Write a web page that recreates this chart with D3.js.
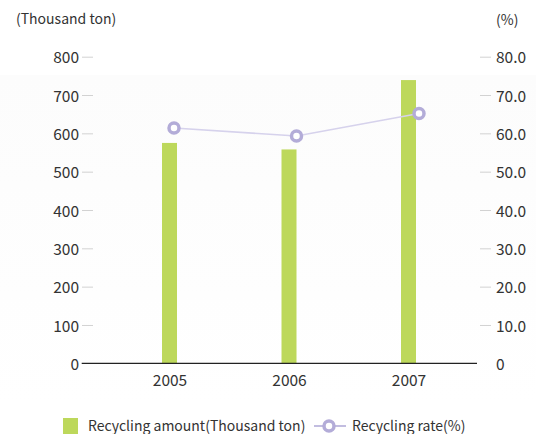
<!DOCTYPE html>
<html>
<head>
<meta charset="utf-8">
<style>
  body { margin: 0; background: #fff; }
  svg text { font-family: "Noto Sans CJK KR", "Noto Sans", sans-serif; fill: #333; }
</style>
</head>
<body>
<script src="https://d3js.org/d3.v7.min.js"></script>
<script>

var years = ["2005", "2006", "2007"];
var amount = [575, 558, 739];          // thousand ton
var rate = [61.4, 59.3, 65.2];         // %
var leftTicks = [0, 100, 200, 300, 400, 500, 600, 700, 800];
var rightTicks = [0, 10, 20, 30, 40, 50, 60, 70, 80];

var W = 536, H = 434;
var y0 = 363.3, yTop = 56.7;

var svg = d3.select("body").append("svg")
  .attr("width", W).attr("height", H);

/* faint background */
var grad = svg.append("defs").append("linearGradient")
  .attr("id", "bg").attr("x1", 0).attr("y1", 0).attr("x2", 0).attr("y2", 1);
grad.append("stop").attr("offset", "0%").attr("stop-color", "#fcfcfc");
grad.append("stop").attr("offset", "100%").attr("stop-color", "#ffffff");
svg.append("rect").attr("x", 0).attr("y", 75).attr("width", W).attr("height", 330)
  .attr("fill", "url(#bg)");

/* scales */
var yL = d3.scaleLinear().domain([0, 800]).range([y0, yTop]);
var yR = d3.scaleLinear().domain([0, 80]).range([y0, yTop]);
var xBar = d3.scalePoint().domain(years).range([169.5, 408.5]);
var xLine = d3.scalePoint().domain(years).range([174, 419]);
var barW = 15;

/* left axis */
var left = svg.append("g").attr("transform", "translate(93,0)")
  .call(d3.axisLeft(yL).tickValues(leftTicks).tickSize(11).tickPadding(3).tickFormat(d3.format("d")));
left.select(".domain").remove();
left.selectAll("line").attr("stroke", "#d2d2d2");
left.selectAll("text").style("font-size", "15.5px").attr("fill", "#333").attr("dy", "0.4em");
left.selectAll(".tick").filter(function(d) { return d === 0; }).select("line").remove();

/* right axis */
var right = svg.append("g").attr("transform", "translate(480,0)")
  .call(d3.axisRight(yR).tickValues(rightTicks).tickSize(11).tickPadding(5)
    .tickFormat(function(d) { return d === 0 ? "0" : d3.format(".1f")(d); }));
right.select(".domain").remove();
right.selectAll("line").attr("stroke", "#d2d2d2");
right.selectAll("text").style("font-size", "15.5px").attr("fill", "#333").attr("dy", "0.4em");
right.selectAll(".tick").filter(function(d) { return d === 0; }).select("line").remove();

/* unit labels */
svg.append("text").attr("x", 16).attr("y", 24).style("font-size", "14px").text("(Thousand ton)");
svg.append("text").attr("x", 496).attr("y", 25).style("font-size", "14px").text("(%)");

/* bars */
svg.selectAll(".bar").data(years).enter().append("rect")
  .attr("class", "bar")
  .attr("x", function(d) { return xBar(d) - barW / 2; })
  .attr("y", function(d, i) { return yL(amount[i]); })
  .attr("width", barW)
  .attr("height", function(d, i) { return y0 - yL(amount[i]); })
  .attr("fill", "#bdd85b");

/* x axis */
var xAxis = svg.append("g").attr("transform", "translate(0," + y0 + ")")
  .call(d3.axisBottom(xBar).tickSize(0).tickPadding(12));
xAxis.select(".domain").attr("d", "M81.7,0H477").attr("stroke", "#222").attr("stroke-width", 1.2);
xAxis.selectAll("text").style("font-size", "15.5px").attr("fill", "#333");

/* rate line */
var line = d3.line()
  .x(function(d, i) { return xLine(years[i]); })
  .y(function(d) { return yR(d); });
svg.append("path").datum(rate)
  .attr("d", line)
  .attr("fill", "none")
  .attr("stroke", "#d6d2ec")
  .attr("stroke-width", 1.6);
svg.selectAll(".dot").data(rate).enter().append("circle")
  .attr("cx", function(d, i) { return xLine(years[i]); })
  .attr("cy", function(d) { return yR(d); })
  .attr("r", 5)
  .attr("fill", "#fff")
  .attr("stroke", "#b3acd8")
  .attr("stroke-width", 3.5);

/* legend */
var lg = svg.append("g");
lg.append("rect").attr("x", 63).attr("y", 418).attr("width", 15).attr("height", 16).attr("fill", "#bdd85b");
lg.append("text").attr("x", 88).attr("y", 431).style("font-size", "14px").text("Recycling amount(Thousand ton)");
lg.append("line").attr("x1", 314).attr("x2", 346).attr("y1", 426).attr("y2", 426)
  .attr("stroke", "#b3acd8").attr("stroke-width", 1.6);
lg.append("circle").attr("cx", 329).attr("cy", 426).attr("r", 5)
  .attr("fill", "#fff").attr("stroke", "#b3acd8").attr("stroke-width", 3.5);
lg.append("text").attr("x", 352).attr("y", 431).style("font-size", "14px").text("Recycling rate(%)");

</script>
</body>
</html>
